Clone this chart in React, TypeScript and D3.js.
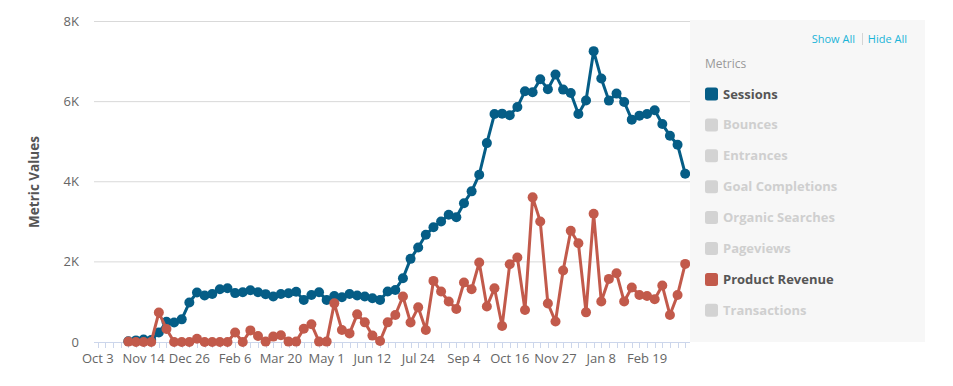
import React from "react";
import * as d3 from "d3";

// weekly data, first week starts Oct 31 2016
const firstWeek = new Date(Date.UTC(2016, 9, 31));

const sessions = [
  20, 40, 60, 50, 235, 505, 485, 565, 985, 1235, 1160, 1200, 1315, 1340, 1220, 1240,
  1290, 1240, 1195, 1135, 1200, 1215, 1255, 1050, 1175, 1240, 1050, 1150, 1115, 1200,
  1160, 1135, 1090, 1050, 1260, 1300, 1590, 2075, 2360, 2675, 2865, 3010, 3175, 3115,
  3465, 3760, 4175, 4965, 5690, 5700, 5660, 5865, 6260, 6235, 6560, 6310, 6675, 6300,
  6215, 5690, 6030, 7260, 6575, 6025, 6200, 5990, 5550, 5650, 5690, 5785, 5440, 5150,
  4925, 4200,
];

const productRevenue = [
  10, 0, 0, 0, 735, 325, 0, 0, 0, 80, 0, 0, 0, 0, 235, 0, 290, 150, 10, 135, 170, 10,
  10, 330, 445, 10, 10, 965, 300, 215, 690, 490, 160, 25, 490, 675, 1135, 485, 865, 300,
  1525, 1260, 1010, 825, 1485, 1315, 1985, 885, 1340, 400, 1940, 2110, 800, 3610, 3010,
  960, 510, 1785, 2775, 2465, 740, 3200, 1010, 1575, 1715, 1010, 1360, 1175, 1150, 1065,
  1410, 675, 1175, 1950,
];

const yTicks = [0, 2000, 4000, 6000, 8000];
const xTickLabels = [
  "Oct 3", "Nov 14", "Dec 26", "Feb 6", "Mar 20", "May 1", "Jun 12",
  "Jul 24", "Sep 4", "Oct 16", "Nov 27", "Jan 8", "Feb 19",
];

const legendItems = [
  "Sessions", "Bounces", "Entrances", "Goal Completions",
  "Organic Searches", "Pageviews", "Product Revenue", "Transactions",
];
const activeColors: Record<string, string> = {
  Sessions: "#055d86",
  "Product Revenue": "#c25a4b",
};

const W = 953;
const H = 386;
const font = "'Open Sans', sans-serif";
const DAY = 86400000;

const App: React.FC = () => {
  const plotLeft = 94;
  const plotRight = 690;
  const plotTop = 21.5;
  const plotBottom = 342;

  const dates = sessions.map((_, i) => d3.utcWeek.offset(firstWeek, i));
  const axisStart = new Date(Date.UTC(2016, 9, 3) - 3.5 * DAY);
  const axisEnd = new Date(dates[dates.length - 1].getTime() + 3.5 * DAY);

  const x = d3.scaleUtc().domain([axisStart, axisEnd]).range([plotLeft, plotRight - 1]);
  const y = d3.scaleLinear().domain([0, 8000]).range([plotBottom, plotTop]);

  const labelDates = xTickLabels.map((_, i) => d3.utcDay.offset(new Date(Date.UTC(2016, 9, 3)), i * 42));
  const minorTicks = d3.utcDay.range(new Date(Date.UTC(2016, 9, 3)), axisEnd, 7);

  const line = d3
    .line<number>()
    .x((_, i) => x(dates[i]))
    .y((d) => y(d));

  const series = [
    { name: "Sessions", values: sessions },
    { name: "Product Revenue", values: productRevenue },
  ];

  return (
    <svg width={W} height={H} style={{ position: "absolute", left: 0, top: 0 }} fontFamily={font}>
      <rect width={W} height={H} fill="#fff" />
      {yTicks.slice(1).map((t) => (
        <line key={t} x1={plotLeft} x2={plotRight} y1={y(t)} y2={y(t)} stroke="#d9d9d9" strokeWidth={1} />
      ))}
      {yTicks.map((t) => (
        <text key={t} x={79} y={y(t) + 4.5} textAnchor="end" fontSize={13} fill="#666">
          {t === 0 ? "0" : `${t / 1000}K`}
        </text>
      ))}
      <text
        transform={`translate(39, 182) rotate(-90)`}
        textAnchor="middle"
        fontSize={13.5}
        fontWeight="bold"
        fill="#555"
      >
        Metric Values
      </text>

      {/* x axis */}
      <line x1={plotLeft} x2={plotRight} y1={plotBottom + 0.5} y2={plotBottom + 0.5} stroke="#ccd6eb" />
      {minorTicks.map((d, i) => (
        <line
          key={i}
          x1={Math.round(x(d)) + 0.5}
          x2={Math.round(x(d)) + 0.5}
          y1={plotBottom}
          y2={plotBottom + 6}
          stroke="#ccd6eb"
        />
      ))}
      {labelDates.map((d, i) => (
        <text key={i} x={x(d)} y={363} textAnchor="middle" fontSize={13} fill="#666">
          {xTickLabels[i]}
        </text>
      ))}

      {series.map((s) => (
        <g key={s.name}>
          <path d={line(s.values) || ""} fill="none" stroke={activeColors[s.name]} strokeWidth={3} strokeLinejoin="round" />
          {s.values.map((v, i) => (
            <circle key={i} cx={x(dates[i])} cy={y(v)} r={5} fill={activeColors[s.name]} />
          ))}
        </g>
      ))}

      {/* legend panel */}
      <rect x={690} y={20} width={235} height={322} fill="#f7f7f7" />
      <text x={855} y={43} textAnchor="end" fontSize={11} fill="#1ab4d7">
        Show All
      </text>
      <line x1={862.5} x2={862.5} y1={33} y2={45} stroke="#d5d5d5" />
      <text x={907} y={43} textAnchor="end" fontSize={11} fill="#1ab4d7">
        Hide All
      </text>
      <text x={705} y={68} fontSize={12} fill="#999">
        Metrics
      </text>
      {legendItems.map((name, i) => {
        const cy = 94 + i * 30.9;
        const c = activeColors[name];
        return (
          <g key={name}>
            <rect x={705} y={cy - 6.5} width={13} height={13} rx={2.5} fill={c || "#d3d3d3"} />
            <text x={723} y={cy + 4.5} fontSize={13} fontWeight="bold" fill={c ? "#555" : "#cfcfcf"}>
              {name}
            </text>
          </g>
        );
      })}
    </svg>
  );
};

export default App;
